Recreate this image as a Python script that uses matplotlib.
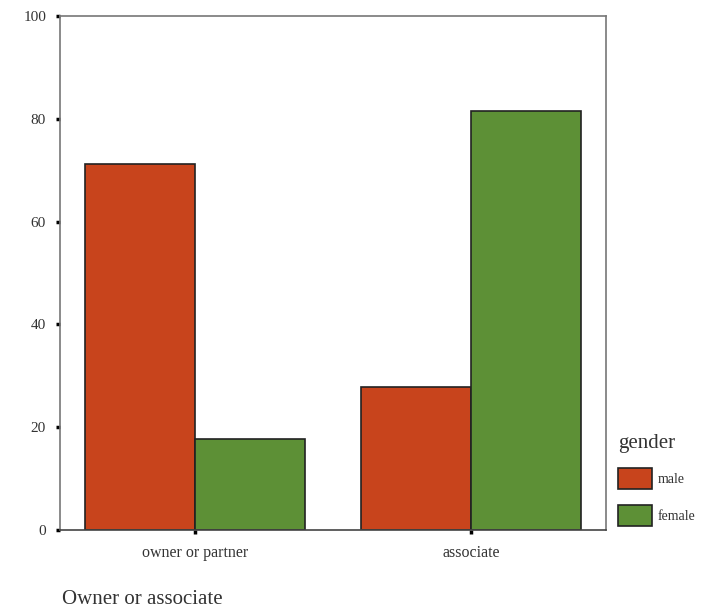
import matplotlib
matplotlib.use("Agg")
import matplotlib.pyplot as plt
import numpy as np

categories = ["owner or partner", "associate"]
genders = ["male", "female"]
male_pct = [71.3, 27.8]
female_pct = [17.8, 81.6]
colors = ["#c8441c", "#5d9036"]

plt.rcParams['font.family'] = ['Liberation Serif', 'DejaVu Serif']

fig = plt.figure(figsize=(7.14, 6.09), dpi=100)
ax = fig.add_axes([60/714, 1-530/609, 546/714, 514/609])

x = np.arange(len(categories))
w = 0.4
ax.bar(x - w/2, male_pct, w, color=colors[0], edgecolor="#222222", linewidth=1.2, label=genders[0])
ax.bar(x + w/2, female_pct, w, color=colors[1], edgecolor="#222222", linewidth=1.2, label=genders[1])

ax.set_xlim(-0.49, 1.49)
ax.set_ylim(0, 100)
ax.set_yticks(range(0, 101, 20))
ax.set_xticks(x)
ax.set_xticklabels(categories, fontsize=11.5, color="#333333")
ax.tick_params(axis='y', labelsize=11, length=3, width=2.5, color="black", pad=7, labelcolor="#333333")
ax.tick_params(axis='x', length=3, width=2.5, color="black", pad=8)
for s in ax.spines.values():
    s.set_color("#777777")
    s.set_linewidth(1.2)
ax.spines['bottom'].set_color("#444444")

fig.text(62/714, 1-600/609, "Owner or associate", fontsize=15, color="#333333", va="center", ha="left")

leg = fig.legend(loc="upper left", bbox_to_anchor=(608/714, 1-424/609), frameon=False,
                 title="gender", title_fontsize=15, fontsize=10, alignment="left",
                 handlelength=2.45, handleheight=2.0, handletextpad=0.45, labelspacing=1.1,
                 borderpad=0.2)
leg.get_title().set_color("#333333")
for t in leg.get_texts():
    t.set_color("#333333")
for h in leg.legend_handles:
    h.set_edgecolor("#222222")

fig.savefig("out.png", dpi=100, facecolor="white")
